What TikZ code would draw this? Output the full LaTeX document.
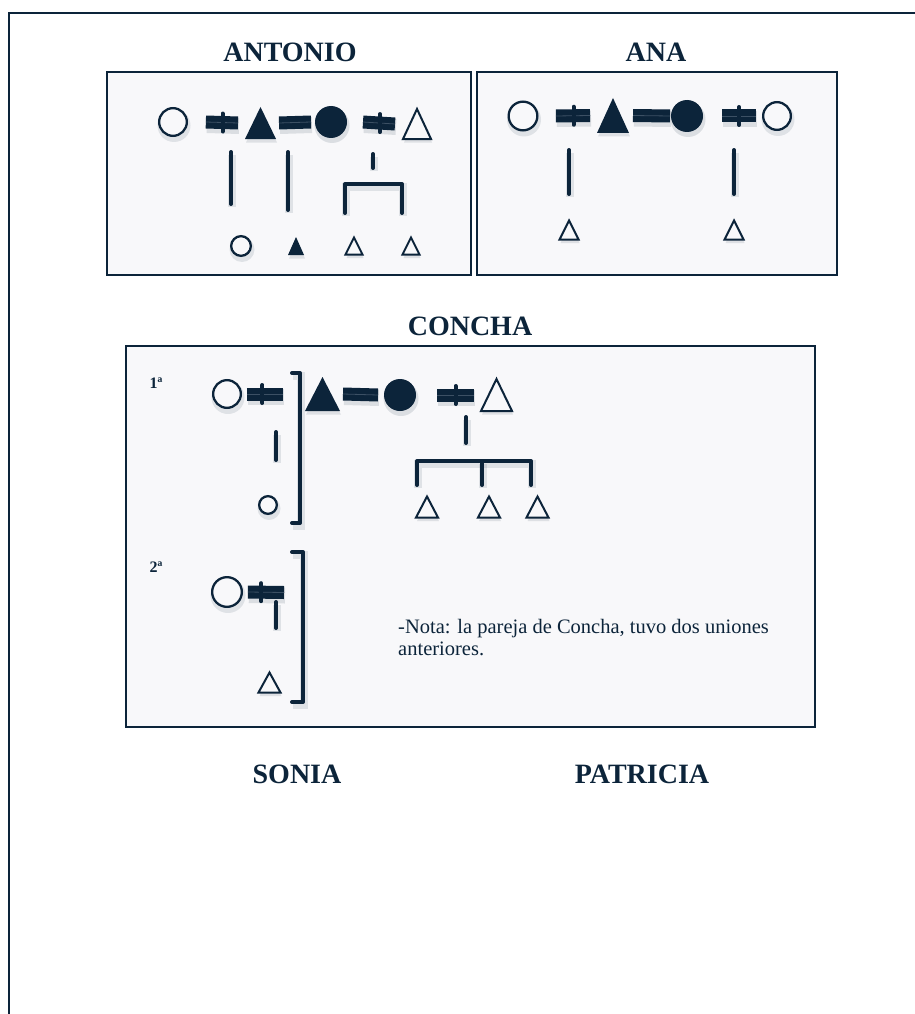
\documentclass[tikz,border=0pt]{standalone}
\usepackage{fontspec}
\setmainfont{Liberation Serif}
\usetikzlibrary{calc}

\definecolor{ink}{RGB}{12,36,58}
\definecolor{boxfill}{RGB}{248,248,250}
\definecolor{gapc}{RGB}{60,80,100}

\tikzset{
  frame/.style={draw=ink, line width=2.5pt},
  panel/.style={draw=ink, line width=2pt, fill=boxfill},
  title/.style={font=\fontsize{28}{30}\selectfont\bfseries, text=ink, inner sep=0pt},
  ord/.style={font=\fontsize{16}{18}\selectfont\bfseries, text=ink, inner sep=0pt},
  notetext/.style={font=\fontsize{20.5}{23}\selectfont, text=ink, inner sep=0pt, anchor=base west},
  ocirc/.style={circle, draw=ink, line width=2.3pt, fill=boxfill, inner sep=0pt, outer sep=0pt},
  fcirc/.style={circle, fill=ink, inner sep=0pt, outer sep=0pt},
  tribox/.style={inner sep=0pt, outer sep=0pt},
  ftri/.style={fill=ink},
  otri/.style={draw=ink, line width=2pt, fill=boxfill, line join=miter},
  vl/.style={draw=ink, line width=4pt, line cap=round, line join=round,
    preaction={draw=ink, draw opacity=.10, line width=8pt, transform canvas={shift={(1pt,-3pt)}}}},
  barline/.style={draw=ink, line width=13pt,
    preaction={draw=ink, draw opacity=.12, line width=16pt, transform canvas={shift={(1pt,-3pt)}}}},
  barmid/.style={draw=gapc, line width=.8pt},
  tick/.style={draw=ink, line width=4pt, line cap=round},
}

% open circle: name, x, y, outer radius
\newcommand\pO[4]{%
  \fill[ink, opacity=.10] (#2+1,#3+3.5) circle[radius=(#4+1.5)*1pt];
  \node[ocirc, minimum size=(2*#4-2.3)*1pt] (#1) at (#2,#3) {};}
% filled circle: name, x, y, radius
\newcommand\pF[4]{%
  \fill[ink, opacity=.12] (#2+1,#3+3.5) circle[radius=(#4+1.5)*1pt];
  \node[fcirc, minimum size=(2*#4)*1pt] (#1) at (#2,#3) {};}
% triangle: name, x, y, width, height, style
\newcommand\pT[6]{%
  \node[tribox, minimum width=#4*1pt, minimum height=#5*1pt] (#1) at (#2,#3) {};
  \fill[ink, opacity=.11, transform canvas={shift={(1pt,-3.5pt)}}]
    (#1.south west) -- (#1.south east) -- (#1.north) -- cycle;
  \path[#6] (#1.south west) -- (#1.south east) -- (#1.north) -- cycle;}
% marriage bar: start, end
\newcommand\eqbar[2]{%
  \draw[barline] #1 -- #2;
  \draw[barmid] #1 -- #2;}
% divorce bar: start, end, position of the crossing stroke
\newcommand\neqbar[3]{%
  \draw[barline] #1 coordinate (ua) -- #2 coordinate (ub);
  \draw[barmid] (ua) -- (ub);
  \draw[tick] ($(ua)!#3!(ub)+(0,-9)$) -- ($(ua)!#3!(ub)+(0,9)$);}

\begin{document}
\begin{tikzpicture}[x=1pt,y=-1pt]
\useasboundingbox (0,0) rectangle (915,1014);

% page frame
\draw[frame] (9,1030) -- (9,13) -- (930,13);

% ---------- ANTONIO ----------
\node[title] (tAntonio) at (290,52) {ANTONIO};
\draw[panel] (107,72) rectangle (471,275);
\pO{a1}{173}{122}{15}
\pT{a2}{260.5}{123}{31}{32}{ftri}
\pF{a3}{331}{122}{16}
\pT{a4}{417}{124}{28}{30}{otri}
\neqbar{([xshift=19pt]a1.east)}{([xshift=-7pt]a2.west)}{.52}
\eqbar{([xshift=3pt]a2.east)}{([xshift=-4pt]a3.west)}
\neqbar{([xshift=16pt]a3.east)}{([xshift=-8pt]a4.west)}{.53}
\coordinate (ad1t) at (231,152); \coordinate (ad1b) at (231,204);
\coordinate (ad2t) at (288,152); \coordinate (ad2b) at (288,210);
\coordinate (ad3t) at (373,154); \coordinate (ad3b) at (373,168);
\coordinate (as1) at (345,213); \coordinate (as2) at (345,184);
\coordinate (as3) at (402,184); \coordinate (as4) at (402,213);
\draw[vl] (ad1t) -- (ad1b);
\draw[vl] (ad2t) -- (ad2b);
\draw[vl] (ad3t) -- (ad3b);
\draw[vl] (as1) -- (as2) -- (as3) -- (as4);
\pO{ac1}{241}{246}{11}
\pT{ac2}{296}{246}{16}{18}{ftri}
\pT{ac3}{354}{246}{17}{17}{otri}
\pT{ac4}{411}{246}{17}{17}{otri}

% ---------- ANA ----------
\node[title] (tAna) at (656,52) {ANA};
\draw[panel] (477,72) rectangle (837,275);
\pO{n1}{523}{116}{15.5}
\pT{n2}{613}{115.5}{32}{35}{ftri}
\pF{n3}{687}{116}{16}
\pO{n4}{777}{116}{15}
\neqbar{([xshift=18.5pt]n1.east)}{([xshift=-7pt]n2.west)}{.52}
\eqbar{([xshift=4pt]n2.east)}{([xshift=-1pt]n3.west)}
\neqbar{([xshift=19pt]n3.east)}{([xshift=-7pt]n4.west)}{.5}
\coordinate (nd1t) at (569,150); \coordinate (nd1b) at (569,194);
\coordinate (nd2t) at (734,150); \coordinate (nd2b) at (734,194);
\draw[vl] (nd1t) -- (nd1b);
\draw[vl] (nd2t) -- (nd2b);
\pT{nc1}{569}{230}{19}{19}{otri}
\pT{nc2}{734}{230}{19}{19}{otri}

% ---------- CONCHA ----------
\node[title] (tConcha) at (470,326) {CONCHA};
\draw[panel] (126,346) rectangle (815,727);

% first previous union
\node[ord] (o1) at (156,383) {1ª};
\pO{c1}{227}{394}{15}
\pT{c2}{322.5}{394}{35}{34}{ftri}
\pF{c3}{400}{395}{16}
\pT{c4}{496.5}{395}{31}{32}{otri}
\neqbar{([xshift=6pt]c1.east)}{([xshift=-22pt]c2.west)}{.43}
\eqbar{([xshift=3pt]c2.east)}{([xshift=-6pt]c3.west)}
\neqbar{([xshift=21pt]c3.east)}{([xshift=-7pt]c4.west)}{.5}
\coordinate (cb1) at (292,373); \coordinate (cb2) at (300,373);
\coordinate (cb3) at (300,523); \coordinate (cb4) at (292,523);
\draw[vl] (cb1) -- (cb2) -- (cb3) -- (cb4);
\coordinate (cd1t) at (276,432); \coordinate (cd1b) at (276,460);
\draw[vl] (cd1t) -- (cd1b);
\pO{cc1}{268}{505}{10}
\coordinate (cd2t) at (466,417); \coordinate (cd2b) at (466,443);
\draw[vl] (cd2t) -- (cd2b);
\coordinate (cs1) at (417,485); \coordinate (cs2) at (417,461);
\coordinate (cs3) at (531,461); \coordinate (cs4) at (531,485);
\coordinate (cs5) at (482,461); \coordinate (cs6) at (482,485);
\draw[vl] (cs1) -- (cs2) -- (cs3) -- (cs4);
\draw[vl] (cs5) -- (cs6);
\pT{cc2}{427}{507}{22}{21}{otri}
\pT{cc3}{489}{507}{22}{21}{otri}
\pT{cc4}{537.5}{507}{22}{21}{otri}

% second previous union
\node[ord] (o2) at (156,567) {2ª};
\pO{c5}{227}{592}{16}
\coordinate (c5end) at (284,592.5);
\neqbar{([xshift=6pt]c5.east)}{(c5end)}{.37}
\coordinate (cd3t) at (276,602); \coordinate (cd3b) at (276,628);
\draw[vl] (cd3t) -- (cd3b);
\coordinate (cb5) at (292,552); \coordinate (cb6) at (303,552);
\coordinate (cb7) at (303,702); \coordinate (cb8) at (292,702);
\draw[vl] (cb5) -- (cb6) -- (cb7) -- (cb8);
\pT{c6}{269.5}{682.5}{22}{20}{otri}

\node[notetext] (nota1) at (398,633) {-Nota: la pareja de Concha, tuvo dos uniones};
\node[notetext] (nota2) at (398,655) {anteriores.};

% ---------- bottom names ----------
\node[title] (tSonia) at (297,774) {SONIA};
\node[title] (tPatricia) at (642,774) {PATRICIA};
\end{tikzpicture}
\end{document}
